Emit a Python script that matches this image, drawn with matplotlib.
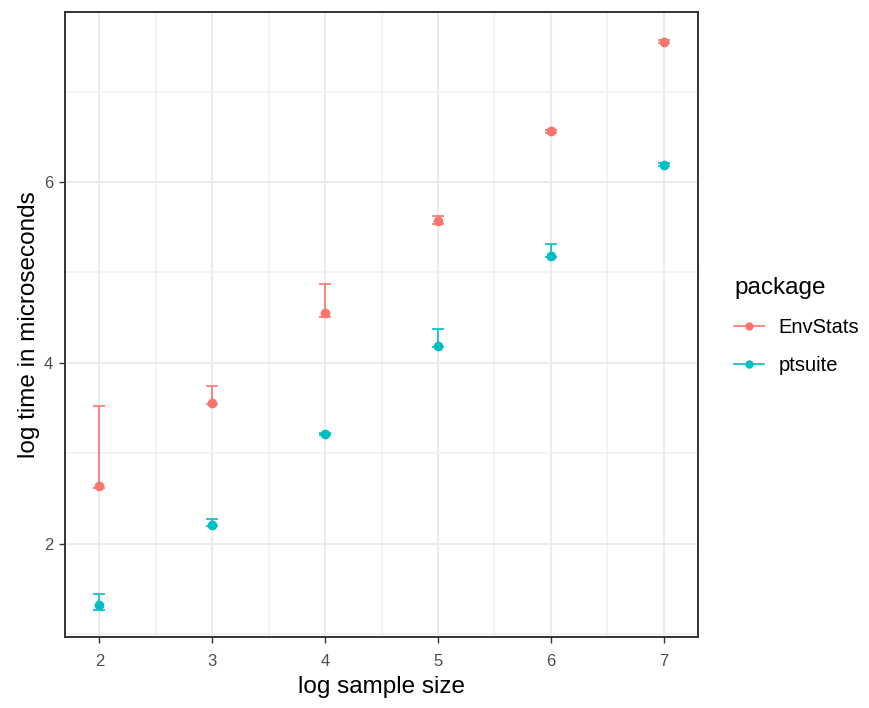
import numpy as np
import matplotlib
matplotlib.use("Agg")
import matplotlib.pyplot as plt
from matplotlib.lines import Line2D
from matplotlib.ticker import MultipleLocator

plt.rcParams['font.family'] = ['Liberation Sans', 'DejaVu Sans']

# values (log scale)
sizes = np.array([2, 3, 4, 5, 6, 7])
envstats_mid = np.array([2.64, 3.56, 4.55, 5.57, 6.56, 7.55])
envstats_lo = np.array([2.62, 3.55, 4.51, 5.54, 6.54, 7.54])
envstats_hi = np.array([3.52, 3.75, 4.87, 5.62, 6.58, 7.57])
ptsuite_mid = np.array([1.32, 2.21, 3.21, 4.19, 5.18, 6.19])
ptsuite_lo = np.array([1.27, 2.20, 3.20, 4.18, 5.17, 6.18])
ptsuite_hi = np.array([1.45, 2.28, 3.22, 4.37, 5.31, 6.21])

packages = ["EnvStats", "ptsuite"]
colors = ["#F8766D", "#00BFC4"]

fig = plt.figure(figsize=(8.7, 7.08), dpi=100)
ax = fig.add_axes([65 / 870, 1 - 637 / 708, 633 / 870, 625 / 708])

series = [(envstats_mid, envstats_lo, envstats_hi),
          (ptsuite_mid, ptsuite_lo, ptsuite_hi)]
for (mid, lo, hi), col in zip(series, colors):
    ax.errorbar(sizes, mid, yerr=[mid - lo, hi - mid], fmt='o', color=col,
                ms=6, elinewidth=1.2, capsize=4, capthick=1.2, zorder=3)

ax.set_xlim(1.695, 7.305)
ax.set_ylim(0.97, 7.88)
ax.xaxis.set_major_locator(MultipleLocator(1))
ax.xaxis.set_minor_locator(MultipleLocator(0.5))
ax.yaxis.set_major_locator(MultipleLocator(2))
ax.yaxis.set_minor_locator(MultipleLocator(1))
ax.grid(which='major', color='#EBEBEB', lw=1.5)
ax.grid(which='minor', color='#F0F0F0', lw=1.1)
ax.set_axisbelow(True)
for s in ax.spines.values():
    s.set_color('#333333')
    s.set_linewidth(1.4)
ax.tick_params(which='major', length=4, color='#333333', labelsize=12,
               labelcolor='#4D4D4D', width=1.0)
ax.tick_params(axis='x', which='major', pad=8.5)
ax.tick_params(axis='y', which='major', pad=4.5)
ax.tick_params(which='minor', length=0)

ax.set_xlabel("log sample size", fontsize=17.5, color='black', labelpad=5)
ax.set_ylabel("log time in microseconds", fontsize=17.5, color='black', labelpad=3)

handles = [Line2D([0], [0], color=c, marker='o', ms=5, lw=1.2) for c in colors]
leg = fig.legend(handles, packages, loc='upper left',
                 bbox_to_anchor=(716 / 870, 1 - 259 / 708), frameon=False,
                 title="package", title_fontsize=17.5, fontsize=14.5,
                 handlelength=1.5, handletextpad=0.7, labelspacing=0.95,
                 alignment='left')

fig.savefig("out.png", dpi=100)
